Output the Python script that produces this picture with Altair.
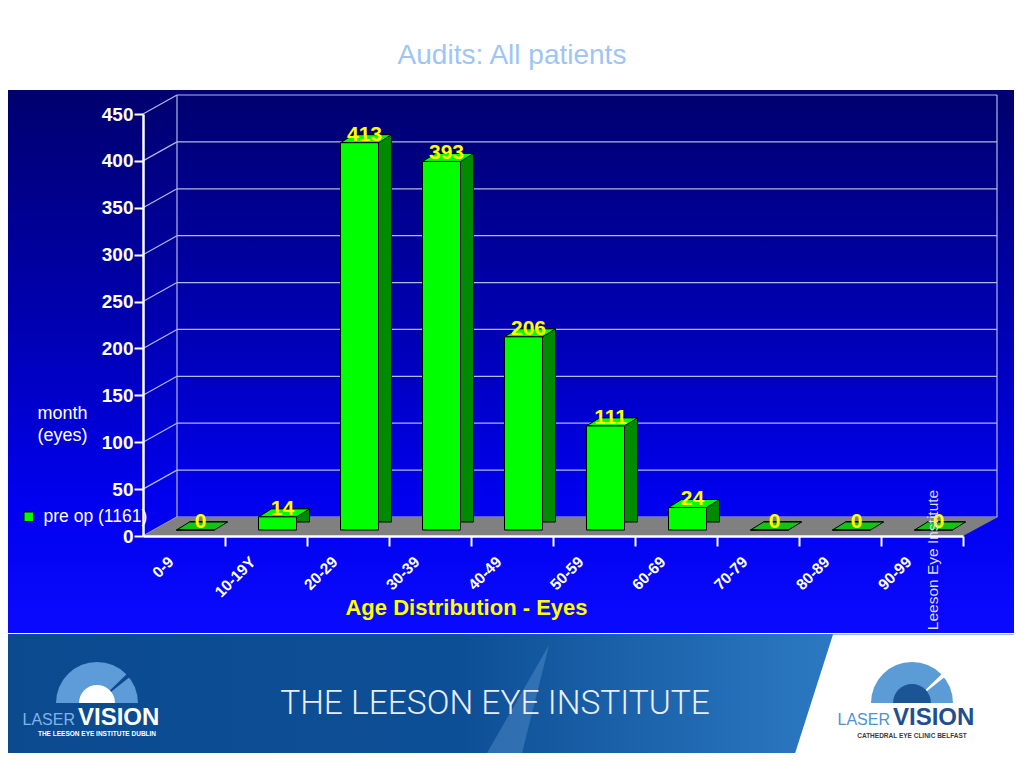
import math
import altair as alt
import pandas as pd

# ---------------- data ----------------
categories = ["0-9", "10-19Y", "20-29", "30-39", "40-49", "50-59", "60-69", "70-79", "80-89", "90-99"]
eyes = [0, 14, 413, 393, 206, 111, 24, 0, 0, 0]
series_name = "pre op (1161)"
y_ticks = [0, 50, 100, 150, 200, 250, 300, 350, 400, 450]

# ---------------- geometry / style ----------------
W, H = 820, 422
FONT = "Liberation Sans"
WALL_DX, WALL_DY = 34, -19          # depth of back wall
BAR_DX, BAR_DY = 11.5, -6           # bars sit a bit into the depth
DEP_DX, DEP_DY = 13, -8             # bar depth
BAR_W = 38

df = pd.DataFrame({"age": categories, "eyes": eyes})
df["series"] = series_name
grid_df = pd.DataFrame({"v": y_ticks})
one = pd.DataFrame({"k": [0]})

x_scale = alt.Scale(domain=categories, paddingInner=0, paddingOuter=0)
y_scale = alt.Scale(domain=[0, 450], nice=False)

x_axis = alt.Axis(
    title="Age Distribution - Eyes", titleColor="#ffff00", titleFont=FONT, titleFontSize=22,
    titleFontWeight="bold", titleX=323, titleY=71, titleBaseline="middle", titleAlign="center",
    labelAngle=-45, labelAlign="right", labelBaseline="top", labelColor="white",
    labelFont=FONT, labelFontWeight="bold", labelFontSize=15.5, labelOffset=-18, labelPadding=8,
    bandPosition=1, tickColor="white", tickSize=10, tickWidth=2,
    domainColor="white", domainWidth=2.5, grid=False, zindex=1,
)
y_axis = alt.Axis(
    values=y_ticks, title=["month", "(eyes)"], titleAngle=0, titleX=-81, titleY=290,
    titleAlign="center", titleBaseline="top", titleColor="white", titleFont=FONT,
    titleFontWeight="normal", titleFontSize=18, titleLineHeight=22,
    labelColor="white", labelFont=FONT, labelFontWeight="bold", labelFontSize=19, labelPadding=1,
    tickColor="white", tickSize=9, tickWidth=2, domainColor="white", domainWidth=2.5,
    grid=False, zindex=1,
)

X = alt.X("age:N", scale=x_scale, sort=categories, axis=x_axis)
Y = alt.Y("eyes:Q", scale=y_scale, axis=y_axis)
YV = alt.Y("v:Q", scale=y_scale, axis=y_axis)

def grad_v(stops):
    return alt.Gradient(gradient="linear", x1=0, x2=0, y1=0, y2=1,
                        stops=[alt.GradientStop(color=c, offset=o) for o, c in stops])

def grad_h(stops):
    return alt.Gradient(gradient="linear", x1=0, x2=1, y1=0, y2=0,
                        stops=[alt.GradientStop(color=c, offset=o) for o, c in stops])

# ---------------- background panels ----------------
bg = alt.Chart(one).mark_rect(
    color=grad_v([(0, "#00006e"), (0.45, "#0000b4"), (0.75, "#0000ee"), (1, "#0a0aff")])
).encode(x=alt.value(-135), x2=alt.value(872), y=alt.value(-24), y2=alt.value(519))

footer = alt.Chart(one).mark_rect(
    color=grad_h([(0, "#0b4a8f"), (0.45, "#0d4f96"), (0.8, "#2a77c0"), (1, "#3a88cc")])
).encode(x=alt.value(-135), x2=alt.value(872), y=alt.value(520), y2=alt.value(640))

beam = alt.Chart(one).mark_point(
    shape="M 0.574 -1 L 0.074 1 L -0.574 1 Z", size=11664, filled=True,
    fill="#6aa2da", opacity=0.35,
).encode(x=alt.value(375), y=alt.value(585))

white_corner = alt.Chart(one).mark_point(
    shape="M -0.6195 -0.5265 L 1 -0.5265 L 1 0.5265 L -0.9558 0.5265 Z", size=51076,
    filled=True, fill="white", opacity=1,
).encode(x=alt.value(760), y=alt.value(580))

# logos
def arc(cx, cy, r, t1, t2, color, inner=0):
    return alt.Chart(one).mark_arc(radius=r, radius2=inner, theta=t1, theta2=t2, color=color).encode(
        x=alt.value(cx), y=alt.value(cy))

P = math.pi
logo_left = [
    arc(-46, 589, 41, 1.5 * P, 2.5 * P, "#5d9cd8"),
    arc(-46, 589, 43, 0.80, 0.90, "#0c4a8f", inner=6),
    arc(-46, 589, 18, 1.5 * P, 2.5 * P, "white"),
]
logo_right = [
    arc(769, 589, 41, 1.5 * P, 2.5 * P, "#5b9bd6"),
    arc(769, 589, 43, 0.80, 0.90, "white", inner=6),
    arc(769, 589, 19, 1.5 * P, 2.5 * P, "#1b5595"),
]

def txt(s, x, y, **kw):
    return alt.Chart(pd.DataFrame({"t": [s]})).mark_text(**kw).encode(
        x=alt.value(x), y=alt.value(y), text="t:N")

footer_text = [
    txt("THE LEESON EYE INSTITUTE", 352, 590, font="Roboto", fontSize=33.5, fontWeight=300,
        color="#e8eef7", baseline="middle", align="center"),
    txt("LASER", -68, 611, font=FONT, fontSize=16, color="#80b3e6", align="right", baseline="alphabetic"),
    txt("VISION", -65, 611, font=FONT, fontSize=24, fontWeight="bold", color="white",
        align="left", baseline="alphabetic"),
    txt("THE LEESON EYE INSTITUTE DUBLIN", -46, 620, font=FONT, fontSize=6.5, fontWeight="bold",
        color="white", align="center", baseline="middle"),
    txt("LASER", 747, 611, font=FONT, fontSize=16, color="#4d93d3", align="right", baseline="alphabetic"),
    txt("VISION", 750, 611, font=FONT, fontSize=24, fontWeight="bold", color="#1f4f8e",
        align="left", baseline="alphabetic"),
    txt("CATHEDRAL EYE CLINIC BELFAST", 769, 622, font=FONT, fontSize=6.5, fontWeight="bold",
        color="#3a3a3a", align="center", baseline="middle"),
]

# ---------------- 3D frame ----------------
GRID_C = "#b4b8e8"
back_grid = alt.Chart(grid_df).mark_rule(color=GRID_C, strokeWidth=1.2, yOffset=WALL_DY).encode(
    x=alt.value(WALL_DX), x2=alt.value(W + WALL_DX), y=YV)
diag = alt.Chart(grid_df).mark_rule(color=GRID_C, strokeWidth=1.2, y2Offset=WALL_DY).encode(
    x=alt.value(0), x2=alt.value(WALL_DX), y=YV, y2="v:Q")
edges = alt.Chart(pd.DataFrame({"xp": [WALL_DX, W + WALL_DX]})).mark_rule(
    color=GRID_C, strokeWidth=1.2, yOffset=WALL_DY, y2Offset=WALL_DY
).encode(x=alt.X("xp:Q", scale=None), y=alt.datum(0, scale=y_scale, axis=y_axis), y2=alt.datum(450))

floor = alt.Chart(one).mark_point(
    shape="M -1 0.02222 L 0.91813 0.02222 L 1 -0.02222 L -0.92047 -0.02222 Z",
    size=731025, filled=True, fill="#808080", opacity=1,
).encode(x=alt.value(427.5), y=alt.value(H - 9.5))

# ---------------- bars ----------------
base = alt.Chart(df).encode(x=X, y=Y)

side = base.mark_bar(width=BAR_W, fill="#008a00", stroke="black", strokeWidth=1,
                     xOffset=BAR_DX + DEP_DX, yOffset=BAR_DY + DEP_DY, y2Offset=BAR_DY + DEP_DY)

top = base.mark_point(
    shape="M -1 0.157 L 0.490 0.157 L 1 -0.157 L -0.490 -0.157 Z", size=2601,
    filled=True, stroke="black", strokeWidth=1, opacity=1,
    xOffset=BAR_DX + 6.5, yOffset=BAR_DY - 4,
).encode(fill=alt.condition(alt.datum.eyes == 0, alt.value("#14c414"), alt.value("#00ff00")))

front = base.mark_bar(width=BAR_W, stroke="black", strokeWidth=1,
                      xOffset=BAR_DX, yOffset=BAR_DY, y2Offset=BAR_DY).encode(
    color=alt.Color("series:N", scale=alt.Scale(domain=[series_name], range=["#00ff00"]),
                    legend=alt.Legend(title=None, orient="none", legendX=-123, legendY=394,
                                      symbolType="square", symbolSize=90, symbolStrokeColor="black",
                                      symbolStrokeWidth=1, labelColor="white", labelFont=FONT,
                                      labelFontSize=17.5, padding=0, zindex=1, labelOffset=6)))

labels = base.mark_text(font=FONT, fontSize=21, fontWeight="bold", color="#ffff00",
                        baseline="alphabetic", align="center", dx=BAR_DX + 5, dy=BAR_DY - 2).encode(
    text="eyes:Q")

watermark = txt("Leeson Eye Institute", 790, 446, font=FONT, fontSize=15.5, color="#dcdcf5",
                angle=270, align="center", baseline="middle")

chart = alt.layer(
    bg, footer, beam, white_corner, *logo_left, *logo_right, *footer_text,
    back_grid, diag, edges, floor, side, top, front, labels, watermark,
).properties(
    width=W, height=H,
    padding={"left": 135, "top": 106, "right": 51, "bottom": 217},
    autosize=alt.AutoSizeParams(type="none"),
    title=alt.TitleParams("Audits: All patients", font=FONT, fontSize=28, fontWeight="normal",
                          color="#9ec5f3", anchor="middle", frame="group", dx=-41, offset=20),
).configure(background="white").configure_view(stroke="transparent")

chart.save("out.html", embed_options={"renderer": "svg", "actions": False})
